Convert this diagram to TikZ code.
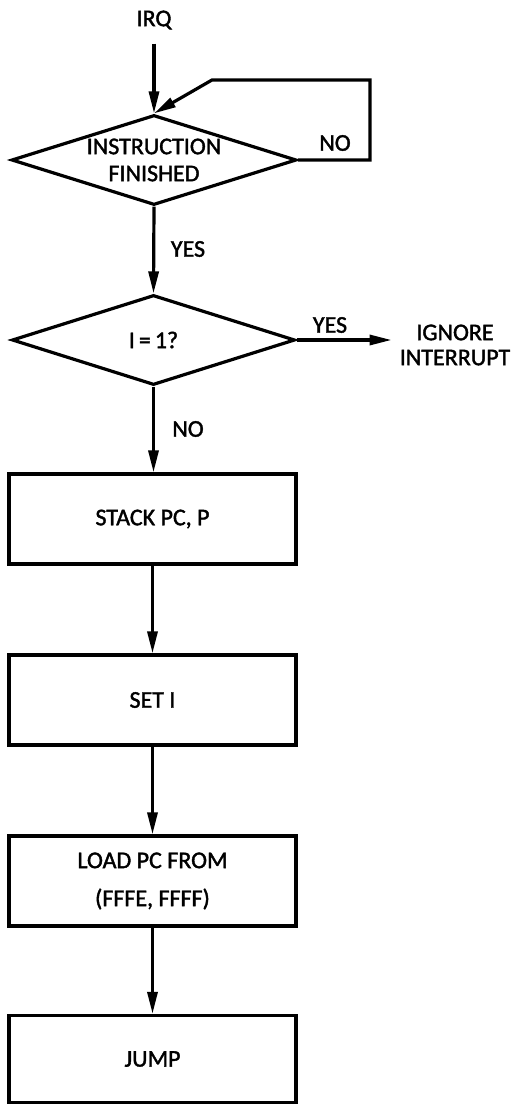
\documentclass[tikz,border=0pt]{standalone}
\usepackage{fontspec}
\setmainfont{Carlito}[FakeBold=1.6]
\usetikzlibrary{shapes.geometric,arrows.meta}
\tikzset{
  x=1pt,y=-1pt,
  txt/.style={font=\fontsize{24}{27}\selectfont,inner sep=0pt,align=center},
  dec/.style={txt,shape=diamond,draw,line width=3.2pt,minimum width=285pt,minimum height=90pt,aspect=3.17},
  procbox/.style={txt,draw,line width=3.2pt,minimum width=287pt,minimum height=90pt},
  flow/.style={line width=3.2pt,-{Triangle[length=22pt,width=10pt]}},
}
\begin{document}
\begin{tikzpicture}
\useasboundingbox (0,0) rectangle (513,1105);
\node[txt] (irq) at (154,20) {IRQ};
\node[dec] (d1) at (154,160) {INSTRUCTION\\FINISHED};
\node[dec,minimum width=283pt] (d2) at (153.5,340) {I\,=\,1?};
\node[txt] (ign) at (455,345) {IGNORE\\[-2pt]INTERRUPT};
\node[procbox] (b1) at (152.5,519) {STACK PC, P};
\node[procbox] (b2) at (152.5,700) {SET I};
\node[procbox] (b3) at (152.5,881) {LOAD PC FROM\\[11pt](FFFE, FFFF)};
\node[procbox,minimum height=87pt] (b4) at (152.5,1059) {JUMP};
\coordinate (lr) at (370,80);
\coordinate (ld) at (212,80);
% connectors
\draw[flow,shorten <=14pt] (irq.south) -- (irq.south |- d1.north);
\draw[flow] (d1.east) -| (lr) -- (ld) -- (d1.north);
\draw[flow] (d1.south) -- (d2.north);
\draw[flow,shorten >=8pt] (d2.east) -- (d2.east -| ign.west);
\draw[flow] (d2.south) -- (d2.south |- b1.north);
\draw[flow] (b1.south) -- (b2.north);
\draw[flow] (b2.south) -- (b3.north);
\draw[flow] (b3.south) -- (b4.north);
% labels
\node[txt] (lno1) at (335,143) {NO};
\node[txt] (lyes1) at (188,249) {YES};
\node[txt] (lyes2) at (330,325) {YES};
\node[txt] (lno2) at (188,429) {NO};
\end{tikzpicture}
\end{document}
